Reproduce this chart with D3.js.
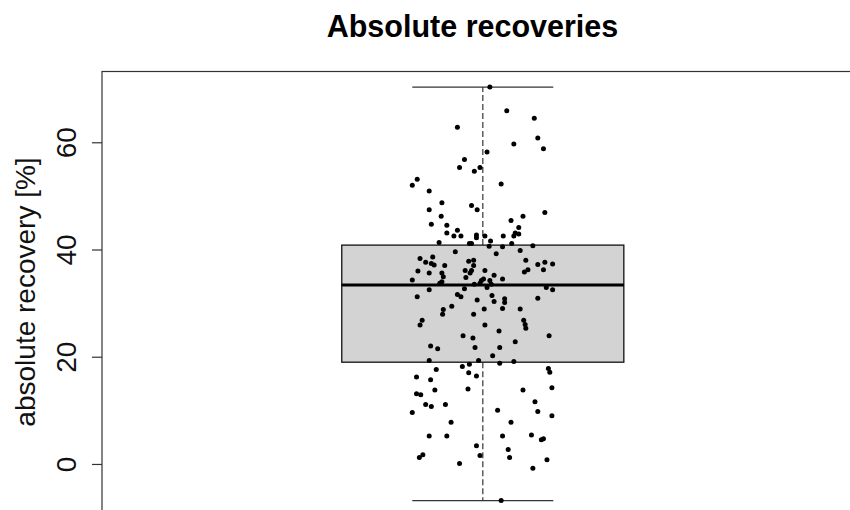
<!DOCTYPE html>
<html>
<head>
<meta charset="utf-8">
<script src="https://cdn.jsdelivr.net/npm/d3@7"></script>
<style>
  body { margin: 0; background: #fff; }
  svg { display: block; font-family: "Liberation Sans", Arial, sans-serif; }
</style>
</head>
<body>
<svg width="850" height="510"></svg>
<script>
// box statistics: lower whisker, Q1, median, Q3, upper whisker
const boxStats = [-6.85, 18.98, 33.36, 40.82, 70.3];
const yTicks = [0, 20, 40, 60];
const titleText = "Absolute recoveries";
const yLabel = "absolute recovery [%]";

// jittered x position (group at x = 1) and recovery value of each point
const xJitter = [
  1.010, 1.034, 1.073, 0.964, 1.078, 1.044, 1.086, 1.006, 0.974, 0.967,
  0.996, 0.988, 0.907, 0.900, 1.026, 0.924, 0.942, 0.984, 0.924, 0.992,
  0.941, 1.088, 1.057, 1.040, 0.927, 0.949, 1.051, 0.964, 0.949, 1.046,
  1.051, 0.959, 0.969, 0.991, 0.991, 1.003, 1.029, 1.044, 1.011, 0.938,
  0.981, 0.984, 1.041, 1.009, 1.028, 1.071, 0.961, 1.019, 1.053, 0.911,
  0.929, 0.919, 0.927, 0.931, 0.946, 0.980, 0.987, 0.987, 1.061, 1.078,
  1.088, 1.099, 1.086, 0.908, 0.924, 0.942, 0.975, 0.982, 0.984, 1.003,
  1.064, 1.059, 0.944, 0.942, 0.939, 0.976, 1.016, 1.028, 0.900, 0.998,
  1.001, 0.996, 1.010, 1.012, 0.988, 0.974, 1.006, 0.924, 1.090, 1.099,
  0.964, 0.969, 0.907, 1.013, 1.031, 1.031, 1.078, 0.992, 1.016, 0.956,
  1.002, 1.028, 1.053, 0.944, 0.943, 0.987, 0.914, 0.911, 1.058, 1.060,
  1.061, 1.003, 1.023, 0.972, 0.986, 1.094, 1.046, 0.926, 0.936, 0.989,
  1.024, 0.924, 0.994, 1.014, 1.024, 1.044, 0.971, 0.981, 0.934, 1.093,
  1.095, 0.980, 0.991, 0.906, 0.926, 0.979, 0.932, 1.098, 1.057, 0.906,
  0.912, 0.919, 0.927, 0.947, 1.074, 0.900, 1.021, 1.078, 1.098, 0.955,
  1.040, 0.924, 0.949, 1.028, 1.069, 1.083, 1.086, 0.991, 1.036, 0.915,
  0.910, 0.996, 1.038, 1.091, 0.967, 1.071, 1.026
];
const recovery = [
  70.3, 65.9, 64.5, 62.8, 60.8, 59.7, 58.8, 58.2, 56.8, 55.3,
  55.3, 54.6, 53.1, 52.0, 52.2, 50.9, 48.7, 48.2, 47.4, 47.4,
  46.2, 46.9, 46.2, 45.4, 44.7, 44.5, 44.1, 43.6, 43.1, 43.1,
  42.9, 42.5, 42.5, 42.7, 42.2, 42.5, 42.5, 42.5, 41.6, 41.3,
  41.1, 41.1, 41.1, 40.6, 40.5, 40.7, 39.6, 39.2, 39.8, 38.3,
  38.6, 37.6, 37.4, 37.1, 37.0, 37.8, 38.0, 37.0, 38.0, 37.2,
  37.6, 37.3, 36.2, 36.0, 35.6, 35.6, 36.1, 35.6, 36.1, 36.1,
  36.2, 35.8, 34.9, 34.0, 33.7, 34.8, 35.2, 34.5, 34.3, 34.2,
  34.5, 33.7, 34.2, 33.5, 33.5, 32.7, 32.9, 32.5, 32.9, 32.5,
  31.6, 31.2, 31.2, 31.4, 30.8, 30.1, 30.9, 30.6, 30.3, 29.4,
  28.9, 29.0, 28.9, 28.8, 27.9, 27.9, 26.8, 25.9, 26.8, 26.0,
  25.3, 25.9, 24.8, 23.9, 23.5, 23.9, 22.8, 22.0, 21.5, 21.7,
  21.7, 19.3, 19.3, 20.2, 18.8, 19.1, 18.2, 18.6, 17.6, 17.8,
  17.1, 17.0, 16.4, 16.2, 15.7, 14.0, 13.8, 14.2, 13.8, 13.1,
  12.9, 11.1, 10.7, 11.1, 11.6, 9.6, 10.0, 9.8, 9.0, 7.8,
  7.8, 5.2, 5.2, 5.2, 5.4, 4.5, 4.7, 3.4, 2.7, 1.7,
  1.2, 1.6, 1.2, 0.8, 0.1, -0.8, -6.8
];

const svg = d3.select("svg");

// plot region (R extends the axis range by 4% on each side)
const area = { left: 102, right: 863.6, top: 71.5, bottom: 516.5 };

const scX = d3.scaleLinear()
  .domain([0.46, 1.54])
  .range([area.left, area.right]);
const scY = d3.scaleLinear()
  .domain([-9.8, 73.2])
  .range([area.bottom, area.top]);

const cx = scX(1);
const boxHalf = scX(1.2) - cx;
const capHalf = scX(1.1) - cx;
const [wLo, q1, med, q3, wHi] = boxStats;

// whiskers (dashed)
svg.append("g")
  .selectAll("line")
  .data([[q3, wHi], [q1, wLo]])
  .enter()
  .append("line")
  .attr("x1", cx).attr("x2", cx)
  .attr("y1", d => scY(d[0]))
  .attr("y2", d => scY(d[1]))
  .attr("stroke", "#444")
  .attr("stroke-width", 1.3)
  .attr("stroke-dasharray", "6,3");

// whisker caps
svg.append("g")
  .selectAll("line")
  .data([wLo, wHi])
  .enter()
  .append("line")
  .attr("x1", cx - capHalf).attr("x2", cx + capHalf)
  .attr("y1", d => scY(d)).attr("y2", d => scY(d))
  .attr("stroke", "#333")
  .attr("stroke-width", 1.2);

// box
svg.append("rect")
  .attr("x", cx - boxHalf)
  .attr("y", scY(q3))
  .attr("width", 2 * boxHalf)
  .attr("height", scY(q1) - scY(q3))
  .attr("fill", "#d3d3d3")
  .attr("stroke", "#111")
  .attr("stroke-width", 1.3);

// median
svg.append("line")
  .attr("x1", cx - boxHalf).attr("x2", cx + boxHalf)
  .attr("y1", scY(med)).attr("y2", scY(med))
  .attr("stroke", "#000")
  .attr("stroke-width", 3);

// jittered points
svg.append("g")
  .selectAll("circle")
  .data(recovery.map((v, i) => ({ x: xJitter[i], y: v })))
  .enter()
  .append("circle")
  .attr("cx", d => scX(d.x))
  .attr("cy", d => scY(d.y))
  .attr("r", 2.5)
  .attr("fill", "#000");

// frame
svg.append("rect")
  .attr("x", area.left)
  .attr("y", area.top)
  .attr("width", area.right - area.left)
  .attr("height", area.bottom - area.top)
  .attr("fill", "none")
  .attr("stroke", "#333")
  .attr("stroke-width", 1.2);

// y axis, labels parallel to the axis as in R
const axisY = d3.axisLeft(scY).tickValues(yTicks).tickSize(10).tickSizeOuter(0);
const gy = svg.append("g")
  .attr("transform", `translate(${area.left},0)`)
  .call(axisY);
gy.select(".domain").remove();
gy.selectAll(".tick line").attr("stroke", "#333").attr("stroke-width", 1.2);
gy.selectAll(".tick text")
  .attr("x", null).attr("dy", null)
  .attr("transform", "translate(-26,0) rotate(-90)")
  .style("text-anchor", "middle")
  .style("font-size", "28px")
  .style("font-family", "'Liberation Sans', Arial, sans-serif")
  .attr("fill", "#111");

// axis title
svg.append("text")
  .attr("transform", `translate(35,${(area.top + area.bottom) / 2 - 2}) rotate(-90)`)
  .attr("text-anchor", "middle")
  .style("font-size", "28px")
  .attr("fill", "#111")
  .text(yLabel);

// main title
svg.append("text")
  .attr("x", 472.5)
  .attr("y", 37)
  .attr("text-anchor", "middle")
  .style("font-size", "30.5px")
  .style("font-weight", "bold")
  .attr("fill", "#000")
  .text(titleText);
</script>
</body>
</html>
